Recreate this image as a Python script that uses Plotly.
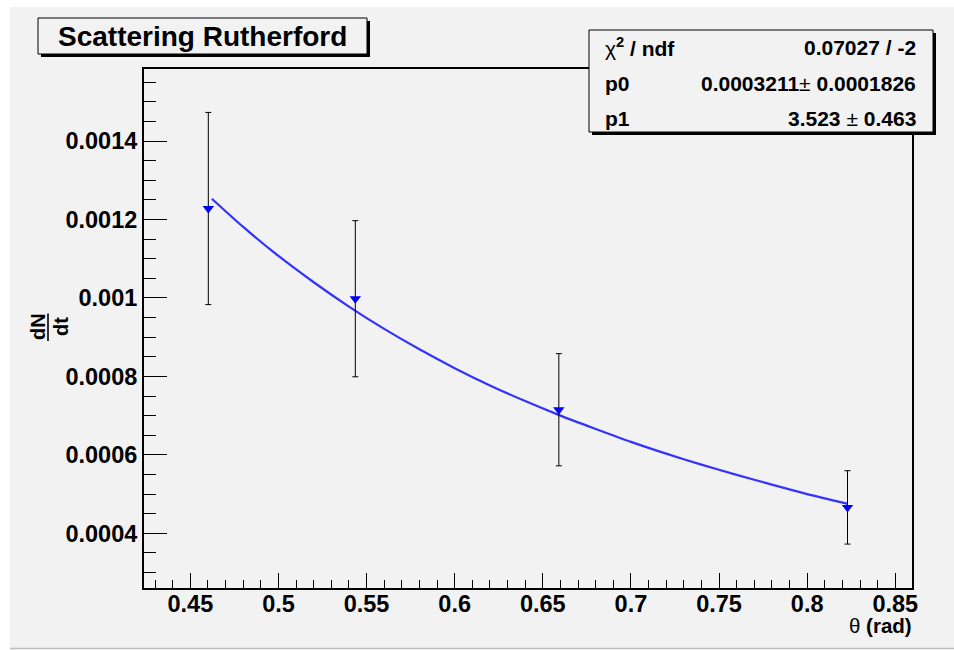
import plotly.graph_objects as go

# Measured scattering rate vs. angle
theta = [0.4602, 0.5436, 0.6591, 0.8229]
dndt = [0.001228, 0.000998, 0.000715, 0.000466]
dndt_err = [0.000245, 0.000199, 0.000143, 0.0000935]

# Fitted curve, sampled along theta
fit_theta = [0.4622, 0.48, 0.50, 0.52, 0.54, 0.56, 0.58, 0.60, 0.62, 0.64,
             0.66, 0.68, 0.70, 0.72, 0.74, 0.76, 0.78, 0.80, 0.8231]
fit_dndt = [0.001253, 0.001181, 0.001107, 0.001040, 0.000978, 0.000921,
            0.000869, 0.000821, 0.000777, 0.000737, 0.000700, 0.000666,
            0.000633, 0.000603, 0.000575, 0.000549, 0.000524, 0.000500,
            0.000475]

# Tick labels
x_tickvals = [0.45, 0.5, 0.55, 0.6, 0.65, 0.7, 0.75, 0.8, 0.85]
x_ticktext = ["0.45", "0.5", "0.55", "0.6", "0.65", "0.7", "0.75", "0.8", "0.85"]
y_tickvals = [0.0004, 0.0006, 0.0008, 0.001, 0.0012, 0.0014]
y_ticktext = ["0.0004", "0.0006", "0.0008", "0.001", "0.0012", "0.0014"]

# Fit statistics box
stat_names = ["χ<sup><b>2</b></sup><b> / ndf</b>", "<b>p0</b>", "<b>p1</b>"]
stat_values = ["<b>0.07027 / -2</b>",
               "<b>0.0003211</b>± <b>0.0001826</b>",
               "<b>3.523 </b>±<b> 0.463</b>"]

title_text = "Scattering Rutherford"

W, H = 954, 650
ML, MR, MT, MB = 144, 42, 69, 62
PW, PH = W - ML - MR, H - MT - MB
FONT = "Liberation Sans, Arial, Helvetica, sans-serif"
BG = "#f2f2f2"


def px(x):
    return (x - ML) / PW


def py(y):
    return (H - MB - y) / PH


fig = go.Figure()

fig.add_trace(go.Scatter(
    x=fit_theta, y=fit_dndt, mode="lines",
    line=dict(color="#3333ff", width=2.2, shape="spline", smoothing=0.8),
    hoverinfo="skip",
))

fig.add_trace(go.Scatter(
    x=theta, y=dndt, mode="markers",
    marker=dict(symbol="triangle-down", size=10, color="#0000ff"),
    error_y=dict(type="data", array=dndt_err, color="black",
                 thickness=1, width=3),
))

axis_common = dict(
    ticks="inside", tickcolor="black", tickwidth=1,
    showline=True, linecolor="black", linewidth=2, mirror=True,
    showgrid=False, zeroline=False,
    tickfont=dict(family=FONT, size=23.5, color="black", weight="bold"),
)

fig.update_xaxes(
    range=[0.4237, 0.8595], tickmode="array",
    tickvals=x_tickvals, ticktext=x_ticktext, ticklen=15,
    ticklabelstandoff=-6,
    minor=dict(ticks="inside", ticklen=8.5, tickcolor="black", tickwidth=1,
               tickmode="linear", tick0=0.45, dtick=0.01),
    **axis_common,
)
fig.update_yaxes(
    range=[0.0002605, 0.0015837], tickmode="array",
    tickvals=y_tickvals, ticktext=y_ticktext, ticklen=23,
    minor=dict(ticks="inside", ticklen=11.7, tickcolor="black", tickwidth=1,
               tickmode="linear", tick0=0.0004, dtick=0.00005),
    **axis_common,
)

shapes = [
    # canvas background
    dict(type="rect", xref="paper", yref="paper",
         x0=px(10), x1=px(W), y0=py(648), y1=py(7),
         fillcolor=BG, line=dict(width=0), layer="below"),
    dict(type="line", xref="paper", yref="paper",
         x0=px(10), x1=px(W), y0=py(648.5), y1=py(648.5),
         line=dict(color="#bdbdbd", width=1.5), layer="below"),
    # title box with shadow
    dict(type="rect", xref="paper", yref="paper",
         x0=px(41), x1=px(370), y0=py(57), y1=py(21),
         fillcolor="black", line=dict(width=0), layer="above"),
    dict(type="rect", xref="paper", yref="paper",
         x0=px(38), x1=px(367), y0=py(54), y1=py(18),
         fillcolor=BG, line=dict(color="black", width=1), layer="above"),
    # statistics box with shadow
    dict(type="rect", xref="paper", yref="paper",
         x0=px(592), x1=px(936), y0=py(135), y1=py(33),
         fillcolor="black", line=dict(width=0), layer="above"),
    dict(type="rect", xref="paper", yref="paper",
         x0=px(589), x1=px(933), y0=py(132), y1=py(30),
         fillcolor=BG, line=dict(color="black", width=1), layer="above"),
    # fraction bar of the y title
    dict(type="line", xref="paper", yref="paper",
         x0=px(48), x1=px(48), y0=py(341), y1=py(313.5),
         line=dict(color="black", width=1.6)),
]

annotations = [
    dict(text="<b>" + title_text + "</b>", x=px(202.5), y=py(36),
         xanchor="center", yanchor="middle",
         font=dict(family=FONT, size=28, color="black")),
    dict(text="<b>dN</b>", x=px(38), y=py(327), textangle=-90,
         xanchor="center", yanchor="middle",
         font=dict(family=FONT, size=20, color="black")),
    dict(text="<b>dt</b>", x=px(61), y=py(327), textangle=-90,
         xanchor="center", yanchor="middle",
         font=dict(family=FONT, size=20, color="black")),
    dict(text="θ <b>(rad)</b>", x=px(914), y=py(625),
         xanchor="right", yanchor="middle",
         font=dict(family=FONT, size=20.5, color="black")),
]

row_y = [47.1, 83.5, 118.5]
for name, val, yy in zip(stat_names, stat_values, row_y):
    annotations.append(dict(text=name, x=px(603), y=py(yy),
                            xanchor="left", yanchor="middle",
                            font=dict(family=FONT, size=21, color="black")))
    annotations.append(dict(text=val, x=px(917.5), y=py(yy),
                            xanchor="right", yanchor="middle",
                            font=dict(family=FONT, size=21, color="black")))

for a in annotations:
    a.update(xref="paper", yref="paper", showarrow=False)

fig.update_layout(
    width=W, height=H,
    margin=dict(l=ML, r=MR, t=MT, b=MB, pad=0),
    paper_bgcolor="white", plot_bgcolor=BG,
    showlegend=False,
    shapes=shapes, annotations=annotations,
    font=dict(family=FONT, color="black"),
)

fig.write_html("out.html")
